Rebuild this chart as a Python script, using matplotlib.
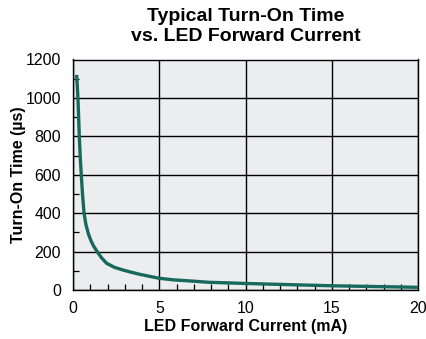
import matplotlib
matplotlib.use("Agg")
import matplotlib.pyplot as plt
from matplotlib.ticker import MultipleLocator

# Data
current_mA = [0.21, 0.25, 0.29, 0.33, 0.37, 0.42, 0.48, 0.55, 0.64, 0.75, 0.9, 1.05, 1.2, 1.4,
              1.65, 1.95, 2.4, 2.9, 3.4, 3.9, 4.5, 5.0, 5.8, 6.8, 7.9, 9.0, 10.0, 12.5, 15.0,
              17.5, 20.0]
turn_on_us = [1120, 1060, 990, 890, 790, 690, 600, 500, 400, 340, 290, 255, 228, 200,
              168, 139, 118, 104, 92, 81, 70, 61, 53, 47, 40, 37, 34, 28, 22,
              18, 14]

title = "Typical Turn-On Time\nvs. LED Forward Current"
xlabel = "LED Forward Current (mA)"
ylabel = "Turn-On Time (µs)"
x_major = [0, 5, 10, 15, 20]
y_major = [0, 200, 400, 600, 800, 1000, 1200]

plt.rcParams['font.family'] = ['Liberation Sans', 'DejaVu Sans']

fig = plt.figure(figsize=(4.26, 3.39), dpi=100)
ax = fig.add_axes([73/426, 1 - 290/339, 345/426, 230.5/339])
ax.set_facecolor('#ECEDEF')

ax.plot(current_mA, turn_on_us, color='#16695C', lw=2.4, solid_capstyle='butt',
        solid_joinstyle='round', zorder=3)

ax.set_xlim(0, 20)
ax.set_ylim(0, 1200)
ax.set_xticks(x_major)
ax.set_yticks(y_major)
ax.xaxis.set_minor_locator(MultipleLocator(1))
ax.yaxis.set_minor_locator(MultipleLocator(100))
ax.grid(True, which='major', color='black', lw=1.0)
ax.tick_params(which='both', direction='in', colors='black', labelsize=11.4)
ax.tick_params(which='major', length=0)
ax.tick_params(axis='y', which='major', pad=8.5)
ax.tick_params(axis='x', which='major', pad=8)
ax.tick_params(which='minor', length=4, width=0.9)
for s in ax.spines.values():
    s.set_linewidth(1.0)
    s.set_color('black')

ax.set_xlabel(xlabel, fontsize=11.5, fontweight='bold', labelpad=2)
ax.set_ylabel(ylabel, fontsize=11.5, fontweight='bold', labelpad=0)
fig.text(246/426, 1 - 8/339, title, ha='center', va='top', fontsize=14,
         fontweight='bold', linespacing=1.25)

fig.savefig('out.png', dpi=100)
